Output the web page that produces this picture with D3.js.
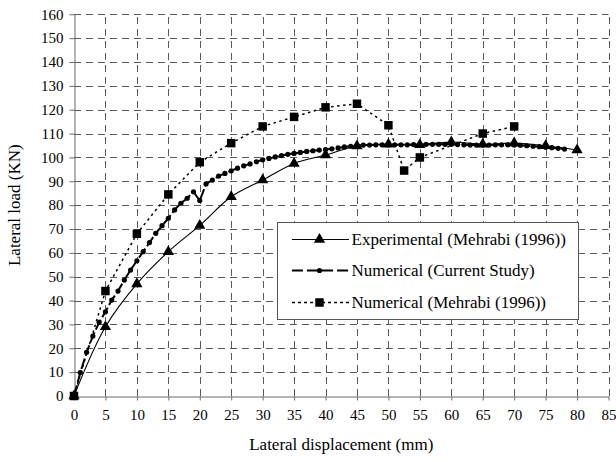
<!DOCTYPE html>
<html>
<head>
<meta charset="utf-8">
<script src="https://cdn.jsdelivr.net/npm/d3@7/dist/d3.min.js"></script>
<style>
  body { margin: 0; background: #fff; }
  svg { display: block; }
</style>
</head>
<body>
<svg id="chart" width="616" height="462" font-family="Liberation Serif"></svg>
<script>
// ---- data ----
const xTicks = [0,5,10,15,20,25,30,35,40,45,50,55,60,65,70,75,80,85];
const yTicks = [0,10,20,30,40,50,60,70,80,90,100,110,120,130,140,150,160];

const expX = [0,5,10,15,20,25,30,35,40,45,50,55,60,65,70,75,80];
const expY = [0,29,47,60.5,71.5,83.5,90.5,97.5,101,104.8,105.5,105.3,106.5,105.5,106,104.9,103.1];

const curX = [0,1,2,3,4,5,6,7,8,9,10,11,12,13,14,15,16,17,18,19,20,21,22,23,24,25,26,27,28,29,30,31,32,33,34,35,36,37,38,39,40,41,42,43,44,45,46,47,48,49,50,51,52,53,54,55,56,57,58,59,60,61,62,63,64,65,66,67,68,69,70,71,72,73,74,75,76,77,78];
const curY = [0,9.8,18.3,25.1,30.9,35.3,40.2,44,48.6,52.8,56.7,60.5,64.3,68.2,71.4,74.5,78,80.8,82.9,85.6,81.9,88.9,90.5,92.2,93.3,94.4,95.5,96.5,97.3,98.2,99,99.6,100.2,100.8,101.3,101.7,102.1,102.5,102.8,103.1,103.3,103.6,104,104.4,104.7,105,105.2,105.2,105.3,105.3,105.3,105.3,105.3,105.3,105.4,105.4,105.5,105.5,105.5,105.5,105.5,105.4,105.3,105.2,105.2,105.2,105.2,105.3,105.3,105.3,105.2,105.1,104.9,104.7,104.5,104.3,104.1,103.8,103.5];

const mehX = [0,5,10,15,20,25,30,35,40,45,50,52.5,55,65,70];
const mehY = [0,44,68,84.5,98,106,113,117,121,122.5,113.5,94.5,100,110,113];

const legendLabels = ["Experimental (Mehrabi (1996))", "Numerical (Current Study)", "Numerical (Mehrabi (1996))"];
const xTitle = "Lateral displacement (mm)";
const yTitle = "Lateral load (KN)";

// ---- layout ----
const FONT = "Liberation Serif";
const svg = d3.select("#chart");
const L = 74, R = 608.5, T = 14.3, B = 396;
const x = d3.scaleLinear().domain([0,85]).range([L,R]);
const y = d3.scaleLinear().domain([0,160]).range([B,T]);

// grid
const grid = svg.append("g").attr("stroke", "#5a5a5a").attr("stroke-width", 1).attr("stroke-dasharray", "7,5");
grid.selectAll(".h").data(yTicks.filter(d => d > 0)).join("line")
  .attr("x1", L).attr("x2", R).attr("y1", d => Math.round(y(d)) + 0.5).attr("y2", d => Math.round(y(d)) + 0.5);
grid.selectAll(".v").data(xTicks.filter(d => d > 0)).join("line")
  .attr("y1", B).attr("y2", T).attr("x1", d => Math.round(x(d)) + 0.5).attr("x2", d => Math.round(x(d)) + 0.5);

// axes
const xAxis = svg.append("g").attr("transform", `translate(0,${Math.round(B)+0.5})`)
  .call(d3.axisBottom(x).tickValues(xTicks).tickSize(4).tickSizeOuter(0).tickPadding(9));
const yAxis = svg.append("g").attr("transform", `translate(${Math.round(L)+0.5},0)`)
  .call(d3.axisLeft(y).tickValues(yTicks).tickSize(5).tickSizeOuter(0).tickPadding(6));
[xAxis, yAxis].forEach(a => {
  a.attr("font-family", FONT).attr("font-size", 15);
  a.selectAll("path, line").attr("stroke", "#6a6a6a").attr("stroke-width", 1);
  a.selectAll("text").attr("fill", "#000");
});

// titles
svg.append("text").attr("x", (L+R)/2).attr("y", 450).attr("text-anchor", "middle")
  .attr("font-family", FONT).attr("font-size", 17).text(xTitle);
svg.append("text").attr("transform", `translate(20,${(T+B)/2}) rotate(-90)`).attr("text-anchor", "middle")
  .attr("font-family", FONT).attr("font-size", 17).text(yTitle);

// series lines
const lineGen = (curve) => d3.line().x(d => x(d[0])).y(d => y(d[1])).curve(curve);
const expData = expX.map((v,i) => [v, expY[i]]);
const curData = curX.map((v,i) => [v, curY[i]]);
const mehData = mehX.map((v,i) => [v, mehY[i]]);

svg.append("path").datum(mehData).attr("d", lineGen(d3.curveLinear))
  .attr("fill", "none").attr("stroke", "#000").attr("stroke-width", 1.5).attr("stroke-dasharray", "2.5,3.5");
svg.append("path").datum(expData).attr("d", lineGen(d3.curveCatmullRom.alpha(0.5)))
  .attr("fill", "none").attr("stroke", "#000").attr("stroke-width", 1.1);
svg.append("path").datum(curData).attr("d", lineGen(d3.curveLinear))
  .attr("fill", "none").attr("stroke", "#000").attr("stroke-width", 2).attr("stroke-dasharray", "11,3");

// markers
const tri = d3.symbol().type(d3.symbolTriangle).size(55);
const sq = d3.symbol().type(d3.symbolSquare).size(72);
svg.append("g").selectAll("path").data(mehData).join("path")
  .attr("d", sq).attr("transform", d => `translate(${x(d[0])},${y(d[1])})`).attr("fill", "#000");
svg.append("g").selectAll("circle").data(curData).join("circle")
  .attr("cx", d => x(d[0])).attr("cy", d => y(d[1])).attr("r", 2.6).attr("fill", "#000");
svg.append("g").selectAll("path").data(expData).join("path")
  .attr("d", tri).attr("transform", d => `translate(${x(d[0])},${y(d[1])})`).attr("fill", "#000");

// legend
const lg = svg.append("g");
lg.append("rect").attr("x", 277.5).attr("y", 222.5).attr("width", 301).attr("height", 97)
  .attr("fill", "#fff").attr("stroke", "#555").attr("stroke-width", 1);
const rows = [239.5, 270.5, 302.5];
const styles = [
  {dash: null, w: 1.1, mark: "tri"},
  {dash: "11,4", w: 2, mark: "circle"},
  {dash: "3,3", w: 1.5, mark: "sq"}
];
legendLabels.forEach((lab, i) => {
  const ry = rows[i];
  const ln = lg.append("line").attr("x1", 292).attr("x2", 349).attr("y1", ry).attr("y2", ry)
    .attr("stroke", "#000").attr("stroke-width", styles[i].w);
  if (styles[i].dash) ln.attr("stroke-dasharray", styles[i].dash);
  if (styles[i].mark === "tri") lg.append("path").attr("d", tri).attr("transform", `translate(319.5,${ry})`).attr("fill", "#000");
  if (styles[i].mark === "circle") lg.append("circle").attr("cx", 319.5).attr("cy", ry).attr("r", 2.6).attr("fill", "#000");
  if (styles[i].mark === "sq") lg.append("path").attr("d", sq).attr("transform", `translate(319.5,${ry})`).attr("fill", "#000");
  lg.append("text").attr("x", 351.5).attr("y", ry).attr("dy", "0.35em")
    .attr("font-family", FONT).attr("font-size", 17).text(lab);
});
</script>
</body>
</html>
